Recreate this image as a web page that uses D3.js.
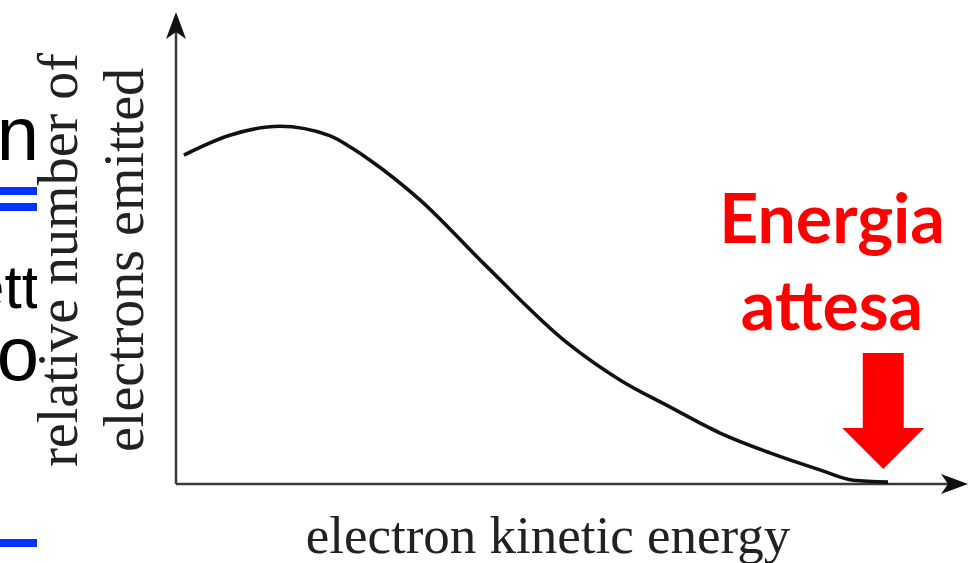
<!DOCTYPE html>
<html>
<head>
<meta charset="utf-8">
<script src="https://cdn.jsdelivr.net/npm/d3@7"></script>
<style>
	body { margin: 0; background: #fff; }
	svg { display: block; }
</style>
</head>
<body>
<svg id="chart"></svg>
<script>
// curve (arbitrary units, 0..10 on both axes)
const energy = [0.10, 0.68, 1.31, 1.94, 2.20, 2.45, 3.08, 3.88, 4.94, 5.61, 6.24, 6.87, 7.50, 8.13, 8.55, 8.99];
const counts = [6.97, 7.39, 7.58, 7.38, 7.14, 6.86, 6.02, 4.68, 2.99, 2.20, 1.63, 1.08, 0.66, 0.30, 0.08, 0.04];
const expectedEnergy = 8.93;

const yLabel = ["relative number of", "electrons emitted"];
const xLabel = "electron kinetic energy";
const noteLines = ["Energia", "attesa"];
// bits of the slide text that peek out left of the picture
const slideText = [{ t: "n", y: 160, size: 76 }, { t: "ett", y: 308, size: 62 }, { t: "o", y: 380, size: 76 }];
const slideBars = [187, 203, 539];

const width = 971;
const height = 563;

const svg = d3.select("#chart")
	.attr("width", width)
	.attr("height", height);

const x = d3.scaleLinear().domain([0, 10]).range([176, 968]);
const y = d3.scaleLinear().domain([0, 10]).range([484, 12]);

// slide background pieces, clipped where the picture starts
svg.append("clipPath").attr("id", "slideClip")
	.append("rect").attr("x", 0).attr("y", 0).attr("width", 37).attr("height", height);
const slide = svg.append("g").attr("clip-path", "url(#slideClip)");
slide.selectAll("text")
	.data(slideText)
	.enter()
	.append("text")
	.attr("x", 39)
	.attr("y", (d) => d.y)
	.attr("text-anchor", "end")
	.style("font-family", "'Liberation Sans', Arial, sans-serif")
	.style("font-size", (d) => `${d.size}px`)
	.attr("fill", "#000")
	.text((d) => d.t);
slide.selectAll("rect")
	.data(slideBars)
	.enter()
	.append("rect")
	.attr("x", 0)
	.attr("y", (d) => d)
	.attr("width", 37)
	.attr("height", 8)
	.attr("fill", "#0033ff");

// axes
const axisColor = "#3a3a3a";
const x0 = x.range()[0], x1 = x.range()[1];
const y0 = y.range()[0], y1 = y.range()[1];

svg.append("path")
	.attr("d", `M ${x0},${y0} L ${x1 - 12},${y0}`)
	.attr("stroke", axisColor)
	.attr("stroke-width", 2.5)
	.attr("fill", "none");
svg.append("path")
	.attr("d", `M ${x0},${y0} L ${x0},${y1 + 14}`)
	.attr("stroke", axisColor)
	.attr("stroke-width", 2.5)
	.attr("fill", "none");

function arrowHead(tx, ty, ux, uy) {
	const len = 27, half = 10, notch = 7;
	const px = -uy, py = ux;
	const b1 = [tx - ux * len + px * half, ty - uy * len + py * half];
	const b2 = [tx - ux * len - px * half, ty - uy * len - py * half];
	const n = [tx - ux * (len - notch), ty - uy * (len - notch)];
	return `M ${tx},${ty} L ${b1[0]},${b1[1]} L ${n[0]},${n[1]} L ${b2[0]},${b2[1]} Z`;
}
svg.append("path")
	.attr("d", arrowHead(x1, y0, 1, 0))
	.attr("fill", "#111");
svg.append("path")
	.attr("d", arrowHead(x0, y1, 0, -1))
	.attr("fill", "#111");

// curve
const line = d3.line()
	.x((d) => x(d[0]))
	.y((d) => y(d[1]))
	.curve(d3.curveMonotoneX);

svg.append("path")
	.datum(d3.zip(energy, counts))
	.attr("d", line)
	.attr("fill", "none")
	.attr("stroke", "#111")
	.attr("stroke-width", 3.6);

// axis labels
const serif = "'Liberation Serif', 'Times New Roman', serif";
svg.append("text")
	.attr("x", 548)
	.attr("y", 553)
	.attr("text-anchor", "middle")
	.style("font-family", serif)
	.style("font-size", "53px")
	.attr("fill", "#222")
	.text(xLabel);

svg.append("g")
	.attr("transform", "translate(77, 260) rotate(-90)")
	.selectAll("text")
	.data(yLabel)
	.enter()
	.append("text")
	.attr("x", 0)
	.attr("y", (_, i) => i * 66)
	.attr("text-anchor", "middle")
	.style("font-family", serif)
	.style("font-size", "56px")
	.attr("fill", "#222")
	.text((d) => d);

// annotation
const red = "#ff0000";
svg.selectAll(".note")
	.data(noteLines)
	.enter()
	.append("text")
	.attr("class", "note")
	.attr("x", 832)
	.attr("y", (_, i) => 243 + i * 87)
	.attr("text-anchor", "middle")
	.style("font-family", "Lato, 'Open Sans', sans-serif")
	.style("font-weight", "bold")
	.style("font-size", "68px")
	.attr("fill", red)
	.text((d) => d);

const ax = x(expectedEnergy);
const tipY = y(0) - 15;
svg.append("path")
	.attr("d", `M ${ax - 20.5},${tipY - 116} L ${ax + 20.5},${tipY - 116} L ${ax + 20.5},${tipY - 41}
		L ${ax + 41},${tipY - 41} L ${ax},${tipY} L ${ax - 41},${tipY - 41} L ${ax - 20.5},${tipY - 41} Z`)
	.attr("fill", red);
</script>
</body>
</html>
